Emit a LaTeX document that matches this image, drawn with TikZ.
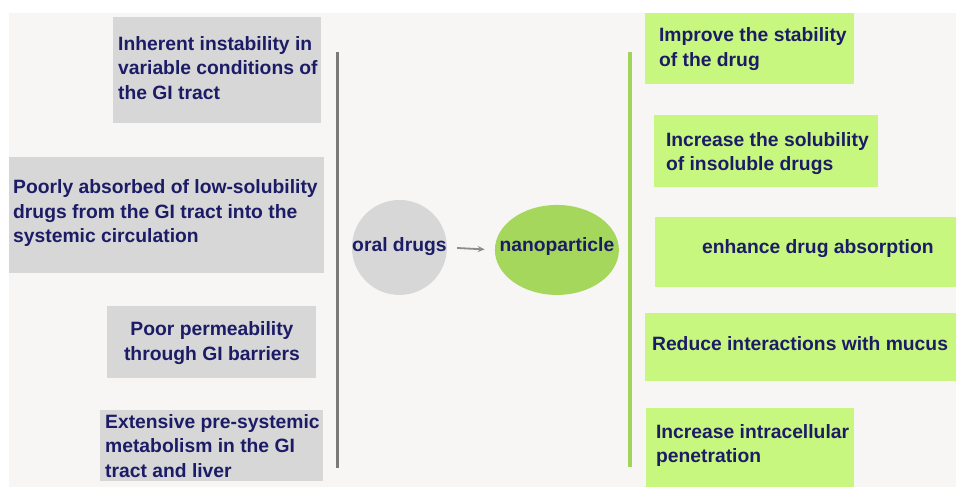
\documentclass[tikz,border=0pt]{standalone}
\usepackage{fontspec}
\setmainfont{Liberation Sans}
\usetikzlibrary{shapes.geometric,arrows.meta}
\definecolor{pagebg}{HTML}{F7F6F5}
\definecolor{boxgray}{HTML}{D7D7D7}
\definecolor{boxgreen}{HTML}{C8F77F}
\definecolor{nanogreen}{HTML}{A5D75C}
\definecolor{barline}{HTML}{7A7A7A}
\definecolor{greenbar}{HTML}{A2D45A}
\definecolor{navy}{HTML}{1C1C66}
\definecolor{arrowgray}{HTML}{8C8C8C}
\begin{document}
\begin{tikzpicture}[x=1pt,y=-1pt,
  label/.style={font=\bfseries\fontsize{19.3}{24.5}\selectfont, text=navy, inner sep=0pt, align=left},
  grayrect/.style={fill=boxgray, draw=none, inner sep=0pt, anchor=north west},
  greenrect/.style={fill=boxgreen, draw=none, inner sep=0pt, anchor=north west},
  arrowline/.style={draw=arrowgray, line width=1.8pt, -{Stealth[length=7pt,width=6pt]}, shorten <=10pt, shorten >=10pt}]
  % canvas
  \fill[white] (0,0) rectangle (956,487);
  \fill[pagebg] (9,13) rectangle (956,487);

  % problem boxes on the left
  \node[grayrect, minimum width=208pt, minimum height=106pt] (l1) at (113,17) {};
  \node[grayrect, minimum width=315pt, minimum height=116pt] (l2) at (9,157) {};
  \node[grayrect, minimum width=209pt, minimum height=72pt] (l3) at (107,306) {};
  \node[grayrect, minimum width=223pt, minimum height=71pt] (l4) at (100,410) {};

  \node[label, anchor=west] (t1) at (118,68) {Inherent instability in\\variable conditions of\\the GI tract};
  \node[label, anchor=west] (t2) at (13,213.5) {Poorly absorbed of low-solubility\\drugs from the GI tract into the\\systemic circulation};
  \node[label, align=center] (t3) at (212,343) {Poor permeability\\through GI barriers};
  \node[label, anchor=west] (t4) at (105,446) {Extensive pre-systemic\\metabolism in the GI\\tract and liver};

  % separators
  \draw[barline, line width=3pt] (338,52) -- (338,468);
  \draw[greenbar, line width=4pt] (630.5,52) -- (630.5,467);

  % centre: drug and carrier
  \node[circle, fill=boxgray, minimum size=95pt, inner sep=0pt] (oral) at (399.5,247.5) {};
  \node[label] (oraltext) at (399.5,247) {oral drugs};
  \node[ellipse, fill=nanogreen, minimum width=124pt, minimum height=90pt, inner sep=0pt] (nano) at (557,250) {};
  \node[label] (nanotext) at (557,247) {nanoparticle};
  \draw[arrowline] (oral.east) -- (nano.west);

  % benefit boxes on the right
  \node[greenrect, minimum width=209pt, minimum height=71pt] (r1) at (645,13) {};
  \node[greenrect, minimum width=224pt, minimum height=72pt] (r2) at (654,115) {};
  \node[greenrect, minimum width=301pt, minimum height=70pt] (r3) at (655,217) {};
  \node[greenrect, minimum width=311pt, minimum height=68pt] (r4) at (645,313) {};
  \node[greenrect, minimum width=208pt, minimum height=79pt] (r5) at (646,408) {};

  \node[label, anchor=west] (u1) at (659,49) {Improve the stability\\of the drug};
  \node[label, anchor=west] (u2) at (666,153.5) {Increase the solubility\\of insoluble drugs};
  \node[label, anchor=west] (u3) at (702,249) {enhance drug absorption};
  \node[label, anchor=west] (u4) at (652,343.5) {Reduce interactions with mucus};
  \node[label, anchor=west] (u5) at (656,445.5) {Increase intracellular\\penetration};
\end{tikzpicture}
\end{document}
